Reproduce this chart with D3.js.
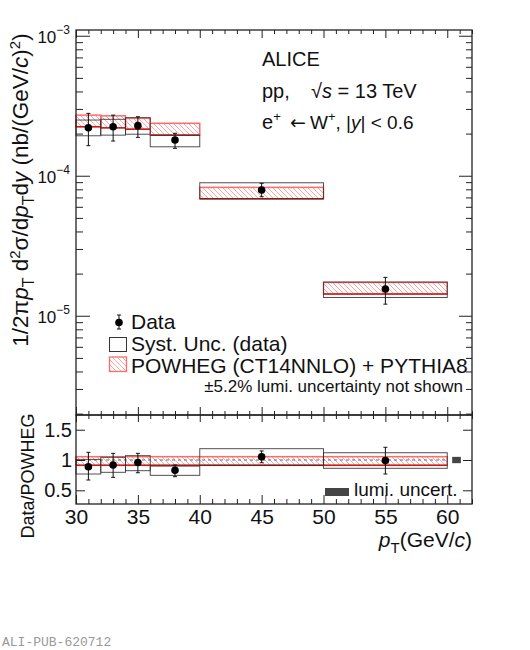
<!DOCTYPE html>
<html>
<head>
<meta charset="utf-8">
<script src="https://cdn.jsdelivr.net/npm/d3@7"></script>
<style>
  body { margin: 0; background: #fff; }
  svg { font-family: "Liberation Sans", Arial, Helvetica, sans-serif; }
</style>
</head>
<body>
<div id="chart"></div>
<script>
// ---------------------------- DATA ----------------------------//
const binLow    = [30, 32, 34, 36, 40, 50];
const binHigh   = [32, 34, 36, 40, 50, 60];
const ptCenter  = [31, 33, 35, 38, 45, 55];

// top panel: 1/2pi pT d2sigma/dpT dy  (nb/(GeV/c)^2)
const sigma     = [2.20e-4, 2.24e-4, 2.28e-4, 1.80e-4, 7.91e-5, 1.55e-5];
const statHigh  = [2.79e-4, 2.71e-4, 2.64e-4, 2.01e-4, 8.83e-5, 1.88e-5];
const statLow   = [1.64e-4, 1.77e-4, 1.88e-4, 1.57e-4, 7.08e-5, 1.21e-5];
const systHigh  = [2.50e-4, 2.53e-4, 2.60e-4, 1.95e-4, 8.91e-5, 1.74e-5];
const systLow   = [1.93e-4, 1.95e-4, 1.98e-4, 1.61e-4, 6.85e-5, 1.35e-5];
const powHigh   = [2.71e-4, 2.68e-4, 2.57e-4, 2.37e-4, 8.26e-5, 1.73e-5];
const powLow    = [2.24e-4, 2.20e-4, 2.15e-4, 1.95e-4, 6.85e-5, 1.43e-5];

// bottom panel: Data/POWHEG
const ratio         = [0.89, 0.917, 0.96, 0.83, 1.055, 0.99];
const ratioStatHigh = [1.127, 1.11, 1.11, 0.917, 1.15, 1.21];
const ratioStatLow  = [0.67, 0.714, 0.79, 0.725, 0.955, 0.769];
const ratioSystHigh = [1.01, 1.045, 1.072, 0.90, 1.187, 1.12];
const ratioSystLow  = [0.769, 0.797, 0.824, 0.747, 0.912, 0.863];
const powRatioBand  = [0.912, 1.055];
const lumiBox       = {x: [60.4, 61.1], y: [0.948, 1.052]};

const ratioTicks = [0.5, 1, 1.5];
const ratioTickLabels = ["0.5", "1", "1.5"];
const xMajorTicks = [30, 35, 40, 45, 50, 55, 60];

// ---------------------------- SVG ----------------------------//
const width = 530, height = 650;
const left = 76, right = 472;
const topY = 30, midY = 415, botY = 504;
const frameColor = "#222";

const svg = d3.select("#chart").append("svg")
    .attr("width", width)
    .attr("height", height);

const defs = svg.append("defs");
const hatch = defs.append("pattern")
    .attr("id", "hatch")
    .attr("patternUnits", "userSpaceOnUse")
    .attr("width", 5)
    .attr("height", 5);
hatch.append("path")
    .attr("d", "M0,0 L5,5 M-1,4 L1,6 M4,-1 L6,1")
    .attr("stroke", "#ff8c8c")
    .attr("stroke-width", 0.8);

// --------------------------- SCALES ---------------------------//
const x = d3.scaleLinear().domain([30, 62]).range([left, right]);
const y = d3.scaleLog().domain([1.955e-6, 1.099e-3]).range([midY, topY]);
const yr = d3.scaleLinear().domain([0.274, 1.743]).range([botY, midY]);

const xMinor = d3.range(30, 63, 1).filter(v => v % 5 !== 0);
const yAll = y.ticks();
const yMajor = yAll.filter(v => Math.abs(Math.log10(v) - Math.round(Math.log10(v))) < 1e-6);
const yMinor = yAll.filter(v => yMajor.indexOf(v) < 0);

function tickAxis(axis, sel, values, size) {
    sel.call(axis.tickValues(values).tickSize(size).tickFormat(""));
    sel.select(".domain").remove();
    sel.selectAll(".tick line").attr("stroke", frameColor).attr("stroke-width", 1);
}

// ----------------------------- TOP PANEL ------------------------------//
const topG = svg.append("g");

// POWHEG boxes (hatched)
topG.selectAll(".pow").data(d3.range(binLow.length)).enter()
    .append("rect")
    .attr("x", i => x(binLow[i]))
    .attr("width", i => x(binHigh[i]) - x(binLow[i]))
    .attr("y", i => y(powHigh[i]))
    .attr("height", i => y(powLow[i]) - y(powHigh[i]))
    .attr("fill", "url(#hatch)")
    .attr("stroke", "#ff6b6b")
    .attr("stroke-width", 1.5);

topG.selectAll(".powline").data(d3.range(binLow.length)).enter()
    .append("line")
    .attr("x1", i => x(binLow[i]))
    .attr("x2", i => x(binHigh[i]))
    .attr("y1", i => y(powLow[i]))
    .attr("y2", i => y(powLow[i]))
    .attr("stroke", "#c41e1e")
    .attr("stroke-width", 1.5);

// systematic boxes
topG.selectAll(".syst").data(d3.range(binLow.length)).enter()
    .append("rect")
    .attr("x", i => x(binLow[i]))
    .attr("width", i => x(binHigh[i]) - x(binLow[i]))
    .attr("y", i => y(systHigh[i]))
    .attr("height", i => y(systLow[i]) - y(systHigh[i]))
    .attr("fill", "none")
    .attr("stroke", "#333")
    .attr("stroke-opacity", 0.85)
    .attr("stroke-width", 1);

// stat error bars + points
function drawPoints(g, xs, vs, hi, lo, ys) {
    const idx = d3.range(xs.length);
    g.selectAll(".err").data(idx).enter().append("line")
        .attr("x1", i => x(xs[i])).attr("x2", i => x(xs[i]))
        .attr("y1", i => ys(hi[i])).attr("y2", i => ys(lo[i]))
        .attr("stroke", "#111").attr("stroke-width", 1);
    g.selectAll(".capHi").data(idx).enter().append("line")
        .attr("x1", i => x(xs[i]) - 2).attr("x2", i => x(xs[i]) + 2)
        .attr("y1", i => ys(hi[i])).attr("y2", i => ys(hi[i]))
        .attr("stroke", "#111").attr("stroke-width", 1);
    g.selectAll(".capLo").data(idx).enter().append("line")
        .attr("x1", i => x(xs[i]) - 2).attr("x2", i => x(xs[i]) + 2)
        .attr("y1", i => ys(lo[i])).attr("y2", i => ys(lo[i]))
        .attr("stroke", "#111").attr("stroke-width", 1);
    g.selectAll(".pt").data(idx).enter().append("circle")
        .attr("cx", i => x(xs[i]))
        .attr("cy", i => ys(vs[i]))
        .attr("r", 3.8)
        .attr("fill", "#000");
}
drawPoints(topG, ptCenter, sigma, statHigh, statLow, y);

// axes (ticks inward)
tickAxis(d3.axisRight(y), topG.append("g").attr("transform", `translate(${left},0)`), yMajor, 14);
tickAxis(d3.axisRight(y), topG.append("g").attr("transform", `translate(${left},0)`), yMinor, 7);
tickAxis(d3.axisLeft(y), topG.append("g").attr("transform", `translate(${right},0)`), yMajor, 13);
tickAxis(d3.axisLeft(y), topG.append("g").attr("transform", `translate(${right},0)`), yMinor, 6);
tickAxis(d3.axisBottom(x), topG.append("g").attr("transform", `translate(0,${topY})`), xMajorTicks, 8);
tickAxis(d3.axisBottom(x), topG.append("g").attr("transform", `translate(0,${topY})`), xMinor, 4);
tickAxis(d3.axisTop(x), topG.append("g").attr("transform", `translate(0,${midY})`), xMajorTicks, 8);
tickAxis(d3.axisTop(x), topG.append("g").attr("transform", `translate(0,${midY})`), xMinor, 4);

topG.append("rect")
    .attr("x", left).attr("y", topY)
    .attr("width", right - left).attr("height", midY - topY)
    .attr("fill", "none").attr("stroke", frameColor).attr("stroke-width", 1.3);

// y tick labels 10^n
yMajor.forEach(v => {
    const t = topG.append("text")
        .attr("x", left - 6)
        .attr("y", y(v) + 7)
        .attr("text-anchor", "end")
        .attr("font-size", 17)
        .attr("fill", "#111");
    t.append("tspan").text("10");
    t.append("tspan").attr("dy", -9).attr("font-size", 12)
        .text("\u2212" + Math.round(-Math.log10(v)));
});

// y title
const yTitle = svg.append("text")
    .attr("transform", `translate(28,${190}) rotate(-90)`)
    .attr("text-anchor", "middle")
    .attr("font-size", 22.5)
    .attr("fill", "#111");
yTitle.append("tspan").text("1/2\u03c0");
yTitle.append("tspan").attr("font-style", "italic").text("p");
yTitle.append("tspan").attr("font-size", 16).attr("dy", 6).text("T");
yTitle.append("tspan").attr("dy", -6).text(" d");
yTitle.append("tspan").attr("font-size", 15).attr("dy", -8).text("2");
yTitle.append("tspan").attr("dy", 8).text("\u03c3/d");
yTitle.append("tspan").attr("font-style", "italic").text("p");
yTitle.append("tspan").attr("font-size", 16).attr("dy", 6).text("T");
yTitle.append("tspan").attr("dy", -6).text("d");
yTitle.append("tspan").attr("font-style", "italic").text("y");
yTitle.append("tspan").text(" (nb/(GeV/");
yTitle.append("tspan").attr("font-style", "italic").text("c");
yTitle.append("tspan").text(")");
yTitle.append("tspan").attr("font-size", 15).attr("dy", -8).text("2");
yTitle.append("tspan").attr("dy", 8).text(")");

// top-right label block
svg.append("text").attr("x", 262).attr("y", 66).attr("font-size", 20).attr("fill", "#111").text("ALICE");
const l2 = svg.append("text").attr("x", 262).attr("y", 98).attr("font-size", 20).attr("fill", "#111");
l2.append("tspan").text("pp,");
l2.append("tspan").attr("x", 311).text("\u221a");
l2.append("tspan").attr("font-style", "italic").text("s");
l2.append("tspan").text(" = 13 TeV");
const l3 = svg.append("text").attr("x", 262).attr("y", 129).attr("font-size", 20).attr("fill", "#111");
l3.append("tspan").text("e");
l3.append("tspan").attr("font-size", 13).attr("dy", -8).text("+");
l3.append("tspan").attr("x", 290).attr("dy", 8)
    .attr("font-family", "DejaVu Sans, sans-serif").attr("font-size", 19).text("\u2190");
l3.append("tspan").attr("x", 310).attr("font-size", 19).text("W");
l3.append("tspan").attr("font-size", 13).attr("dy", -8).text("+");
l3.append("tspan").attr("font-size", 19).attr("dy", 8).text(", |");
l3.append("tspan").attr("font-size", 19).attr("font-style", "italic").text("y");
l3.append("tspan").attr("font-size", 19).text("| < 0.6");

// legend
const leg = svg.append("g").attr("font-size", 21).attr("fill", "#111");
leg.append("line").attr("x1", 119).attr("x2", 119).attr("y1", 315).attr("y2", 329).attr("stroke", "#111");
leg.append("line").attr("x1", 117).attr("x2", 121).attr("y1", 315).attr("y2", 315).attr("stroke", "#111");
leg.append("line").attr("x1", 117).attr("x2", 121).attr("y1", 329).attr("y2", 329).attr("stroke", "#111");
leg.append("circle").attr("cx", 119).attr("cy", 322.5).attr("r", 3.8).attr("fill", "#000");
leg.append("text").attr("x", 131).attr("y", 329).text("Data");
leg.append("rect").attr("x", 109.5).attr("y", 337.5).attr("width", 17).attr("height", 14)
    .attr("fill", "none").attr("stroke", "#333").attr("stroke-width", 1);
leg.append("text").attr("x", 131).attr("y", 351).text("Syst. Unc. (data)");
leg.append("rect").attr("x", 109.5).attr("y", 357).attr("width", 17).attr("height", 14.5)
    .attr("fill", "url(#hatch)").attr("stroke", "#ff6b6b").attr("stroke-width", 1.3);
leg.append("text").attr("x", 131).attr("y", 373).text("POWHEG (CT14NNLO) + PYTHIA8");
leg.append("text").attr("x", 463).attr("y", 392).attr("text-anchor", "end")
    .attr("font-size", 17).text("\u00b15.2% lumi. uncertainty not shown");

// ----------------------------- RATIO PANEL ------------------------------//
const botG = svg.append("g");

botG.append("rect")
    .attr("x", x(30)).attr("width", x(60) - x(30))
    .attr("y", yr(powRatioBand[1])).attr("height", yr(powRatioBand[0]) - yr(powRatioBand[1]))
    .attr("fill", "url(#hatch)").attr("stroke", "#ff6b6b").attr("stroke-width", 1.5);
botG.append("line")
    .attr("x1", x(30)).attr("x2", x(60))
    .attr("y1", yr(powRatioBand[0])).attr("y2", yr(powRatioBand[0]))
    .attr("stroke", "#c41e1e").attr("stroke-width", 1.5);
botG.append("line")
    .attr("x1", x(30)).attr("x2", x(60))
    .attr("y1", yr(1)).attr("y2", yr(1))
    .attr("stroke", "#666").attr("stroke-width", 1.2).attr("stroke-dasharray", "3,3");

botG.selectAll(".rsyst").data(d3.range(binLow.length)).enter()
    .append("rect")
    .attr("x", i => x(binLow[i]))
    .attr("width", i => x(binHigh[i]) - x(binLow[i]))
    .attr("y", i => yr(ratioSystHigh[i]))
    .attr("height", i => yr(ratioSystLow[i]) - yr(ratioSystHigh[i]))
    .attr("fill", "none").attr("stroke", "#333").attr("stroke-opacity", 0.85).attr("stroke-width", 1);

drawPoints(botG, ptCenter, ratio, ratioStatHigh, ratioStatLow, yr);

botG.append("rect")
    .attr("x", x(lumiBox.x[0])).attr("width", x(lumiBox.x[1]) - x(lumiBox.x[0]))
    .attr("y", yr(lumiBox.y[1])).attr("height", yr(lumiBox.y[0]) - yr(lumiBox.y[1]))
    .attr("fill", "#444");

tickAxis(d3.axisBottom(x), botG.append("g").attr("transform", `translate(0,${midY})`), xMajorTicks, 7);
tickAxis(d3.axisBottom(x), botG.append("g").attr("transform", `translate(0,${midY})`), xMinor, 4);
tickAxis(d3.axisTop(x), botG.append("g").attr("transform", `translate(0,${botY})`), xMajorTicks, 9);
tickAxis(d3.axisTop(x), botG.append("g").attr("transform", `translate(0,${botY})`), xMinor, 5);
tickAxis(d3.axisRight(yr), botG.append("g").attr("transform", `translate(${left},0)`), ratioTicks, 9);
tickAxis(d3.axisLeft(yr), botG.append("g").attr("transform", `translate(${right},0)`), ratioTicks, 9);

botG.append("rect")
    .attr("x", left).attr("y", midY)
    .attr("width", right - left).attr("height", botY - midY)
    .attr("fill", "none").attr("stroke", frameColor).attr("stroke-width", 1.3);

// x tick labels
const xLab = botG.append("g").attr("transform", `translate(0,${botY})`)
    .call(d3.axisBottom(x).tickValues(xMajorTicks).tickSize(0).tickPadding(5).tickFormat(d3.format("d")));
xLab.select(".domain").remove();
xLab.selectAll("text").attr("font-size", 21).attr("font-family", "Liberation Sans, Arial, sans-serif").attr("fill", "#111");

// ratio y tick labels
ratioTicks.forEach((v, i) => {
    botG.append("text").attr("x", 72).attr("y", yr(v) + 7)
        .attr("text-anchor", "end").attr("font-size", 20).attr("fill", "#111")
        .text(ratioTickLabels[i]);
});

// lumi legend
botG.append("rect").attr("x", 325).attr("y", 488).attr("width", 24).attr("height", 8).attr("fill", "#444");
botG.append("text").attr("x", 354).attr("y", 496).attr("font-size", 19).attr("fill", "#111").text("lumi. uncert.");

// titles
svg.append("text")
    .attr("transform", `translate(34,${476}) rotate(-90)`)
    .attr("text-anchor", "middle").attr("font-size", 18).attr("fill", "#111")
    .text("Data/POWHEG");

const xTitle = svg.append("text").attr("x", 472).attr("y", 547)
    .attr("text-anchor", "end").attr("font-size", 21).attr("fill", "#111");
xTitle.append("tspan").attr("font-style", "italic").text("p");
xTitle.append("tspan").attr("font-size", 15).attr("dy", 6).text("T");
xTitle.append("tspan").attr("dy", -6).text("(GeV/");
xTitle.append("tspan").attr("font-style", "italic").text("c");
xTitle.append("tspan").text(")");

svg.append("text").attr("x", 2).attr("y", 646)
    .attr("font-family", "Liberation Mono, DejaVu Sans Mono, monospace")
    .attr("font-size", 13).attr("fill", "#999").text("ALI-PUB-620712");
</script>
</body>
</html>
